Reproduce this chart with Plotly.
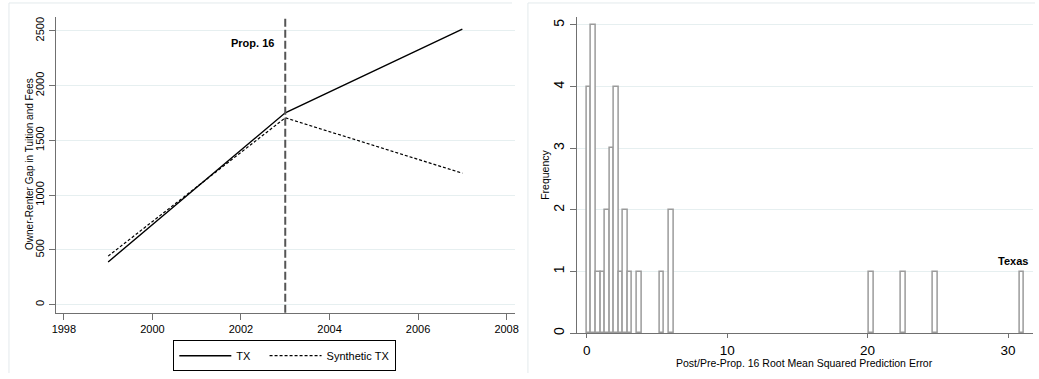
import plotly.graph_objects as go

# ---------------- data ----------------
years = [1999, 2003, 2007]
tx_gap = [390, 1752, 2515]
synthetic_gap = [443, 1706, 1200]
treatment_year = 2003
left_yticks = [0, 500, 1000, 1500, 2000, 2500]
left_xticks = [1998, 2000, 2002, 2004, 2006, 2008]

bin_width = 0.3245
bin_index = [0, 1, 2, 3, 4, 5, 6, 7, 8, 9, 11, 16, 18, 62, 69, 76, 95]
bin_count = [4, 5, 1, 1, 2, 3, 4, 1, 2, 1, 1, 1, 2, 1, 1, 1, 1]
right_yticks = [0, 1, 2, 3, 4, 5]
right_xticks = [0, 10, 20, 30]
texas_label = "Texas"

FONT = "Liberation Sans, Arial, sans-serif"
AXIS_COL = "#707070"
GRID_COL = "#e6eff0"
W, H = 1039, 379

bin_centers = [(i + 0.5) * bin_width for i in bin_index]

fig = go.Figure()
fig.add_trace(go.Scatter(x=years, y=tx_gap, mode="lines", name="TX\u00a0\u00a0\u00a0",
                         line=dict(color="black", width=1.4), xaxis="x", yaxis="y"))
fig.add_trace(go.Scatter(x=years, y=synthetic_gap, mode="lines", name="Synthetic TX",
                         line=dict(color="black", width=1.2, dash="3px,2px"),
                         xaxis="x", yaxis="y"))
fig.add_trace(go.Bar(x=bin_centers, y=bin_count, width=bin_width, showlegend=False,
                     marker=dict(color="white", line=dict(color="#9b9b9b", width=1.5)),
                     xaxis="x2", yaxis="y2"))

def px_x(p):
    return p / W

def px_y(p):
    return 1 - p / H

common_axis = dict(showline=True, linecolor=AXIS_COL, linewidth=1.3, ticks="outside",
                   ticklen=6, tickcolor=AXIS_COL, tickwidth=1.2, zeroline=False,
                   tickfont=dict(family=FONT, size=11, color="black"))
big_ticks = {**common_axis, "tickfont": dict(family=FONT, size=14, color="black")}
right_x_ticks = {**common_axis, "ticklen": 4,
                 "tickfont": dict(family=FONT, size=13.5, color="black")}

fig.update_layout(
    width=W, height=H, margin=dict(l=0, r=0, t=0, b=0),
    paper_bgcolor="white", plot_bgcolor="white",
    font=dict(family=FONT, color="black"),
    bargap=0,
    xaxis=dict(domain=[px_x(52.3), px_x(515)], range=[1997.82, 2008.19],
               tickvals=left_xticks, showgrid=False, anchor="y", **common_axis),
    yaxis=dict(domain=[px_y(314.3), px_y(17)], range=[-73, 2627],
               tickvals=left_yticks, showgrid=True, gridcolor=GRID_COL, gridwidth=1,
               tickangle=-90, anchor="x", **common_axis),
    xaxis2=dict(domain=[px_x(577.3), px_x(1037)], range=[-0.707, 31.78],
                tickvals=right_xticks, showgrid=False, anchor="y2", **right_x_ticks),
    yaxis2=dict(domain=[px_y(335), px_y(17)], range=[0, 5.13],
                tickvals=right_yticks, showgrid=True, gridcolor=GRID_COL, gridwidth=1,
                tickangle=-90, anchor="x2", **big_ticks),
    legend=dict(orientation="h", x=px_x(283), xanchor="center", y=px_y(342), yanchor="top",
                bordercolor="black", borderwidth=1, bgcolor="white",
                font=dict(family=FONT, size=11, color="black"), itemwidth=52,
                tracegroupgap=0),
)

# treatment line
fig.add_shape(type="line", xref="x", yref="y domain", x0=treatment_year, x1=treatment_year,
              y0=0, y1=1, line=dict(color="#555555", width=2, dash="8px,3px"))

annotations = [
    dict(text="<b>Prop. 16</b>", x=treatment_year, xref="x", xanchor="right", xshift=-9,
         y=0.913, yref="y domain", yanchor="middle", showarrow=False,
         font=dict(family=FONT, size=11, color="black")),
    dict(text="Owner-Renter Gap in Tuition and Fees", textangle=-90,
         x=px_x(25), xref="paper", y=px_y(165), yref="paper", showarrow=False,
         xanchor="center", yanchor="middle", font=dict(family=FONT, size=10, color="black")),
    dict(text="Frequency", textangle=-90,
         x=px_x(545), xref="paper", y=px_y(176), yref="paper", showarrow=False,
         xanchor="center", yanchor="middle", font=dict(family=FONT, size=10.5, color="black")),
    dict(text="Post/Pre-Prop. 16 Root Mean Squared Prediction Error",
         x=px_x(807), xref="paper", y=px_y(364.5), yref="paper", showarrow=False,
         xanchor="center", yanchor="middle", font=dict(family=FONT, size=10.5, color="black")),
    dict(text="<b>" + texas_label + "</b>", x=bin_centers[-1], xref="x2", xanchor="right",
         xshift=8, y=bin_count[-1], yref="y2", yanchor="bottom", yshift=3, showarrow=False,
         font=dict(family=FONT, size=11, color="black")),
]
fig.update_layout(annotations=annotations)

# faint graph-region borders
for x0, x1 in [(5, 512), (528, 1039)]:
    fig.add_shape(type="line", xref="paper", yref="paper", x0=px_x(x0), x1=px_x(x1),
                  y0=px_y(3), y1=px_y(3), line=dict(color="#e3eaec", width=1))
    fig.add_shape(type="line", xref="paper", yref="paper", x0=px_x(x0), x1=px_x(x0),
                  y0=px_y(3), y1=px_y(375), line=dict(color="#e3eaec", width=1))

fig.write_html("out.html", config={"displayModeBar": False},
               post_script="document.body.style.margin='0';document.body.style.overflow='hidden';")
